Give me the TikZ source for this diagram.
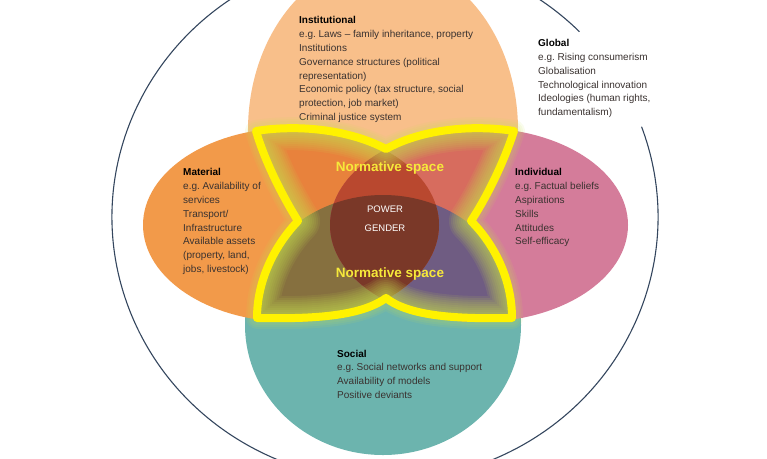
\documentclass[tikz,border=0pt]{standalone}
\usepackage{fontspec}
\setmainfont{Liberation Sans}
\definecolor{peach}{HTML}{F8BF8A}
\definecolor{matorange}{HTML}{F29A4A}
\definecolor{indpink}{HTML}{D47C9A}
\definecolor{socteal}{HTML}{6CB4AE}
\definecolor{deeporange}{HTML}{E8823C}
\definecolor{salmonred}{HTML}{D76C5E}
\definecolor{lobered}{HTML}{B9482F}
\definecolor{matolive}{HTML}{86703F}
\definecolor{matpurple}{HTML}{6F5C82}
\definecolor{corebrown}{HTML}{7A3828}
\definecolor{ringblue}{HTML}{34465E}
\definecolor{normyellow}{HTML}{F6E93A}
\definecolor{glowgreen}{HTML}{C8E050}
\definecolor{bodytext}{HTML}{3A3230}

\newcommand\flowerpath{(256,131) .. controls (300,124) and (350,130) .. (386,149)
  .. controls (420,130) and (470,124) .. (514,131)
  .. controls (503,165) and (485,200) .. (471,221)
  .. controls (495,245) and (512,280) .. (512,318)
  .. controls (460,319) and (410,317) .. (386,298)
  .. controls (360,317) and (310,319) .. (257,318)
  .. controls (257,280) and (275,245) .. (298,221)
  .. controls (285,200) and (266,165) .. (256,131) -- cycle}

\begin{document}
\frenchspacing
\begin{tikzpicture}[x=1pt,y=-1pt,
  blockbody/.style={anchor=north west,align=left,inner sep=0pt,text=bodytext,
    font=\fontsize{10}{13.8}\selectfont},
  corelabel/.style={text=white,inner sep=0pt,font=\fontsize{9.5}{11}\selectfont},
  normlabel/.style={text=normyellow,inner sep=0pt,font=\bfseries\fontsize{13.5}{16}\selectfont},
  glowline/.style={glowgreen,opacity=.1,line join=round}]
\useasboundingbox (0,0) rectangle (767,458);
\clip (0,0) rectangle (767,458);

% outer ring, open behind the global text
\draw[ringblue,line width=1.1pt] (385,217) ++(-20:273 and 264)
  arc[start angle=-20,end angle=315.4,x radius=273,y radius=264];

% the four domains
\fill[peach] (383,130) ellipse [x radius=135,y radius=170];
\fill[socteal] (383,325) ellipse [x radius=138,y radius=130];
\fill[matorange] (291,225) ellipse [x radius=148,y radius=97];
\fill[indpink] (479,225) ellipse [x radius=149,y radius=97];

% texts
\node[blockbody] (inst) at (299,16.4) {{\color{black}\textbf{Institutional}}\\
  e.g. Laws -- family inheritance, property\\ Institutions\\
  Governance structures (political\\ representation)\\
  Economic policy (tax structure, social\\ protection, job market)\\
  Criminal justice system};
\node[blockbody] (glob) at (538,39.2) {{\color{black}\textbf{Global}}\\
  e.g. Rising consumerism\\ Globalisation\\ Technological innovation\\
  Ideologies (human rights,\\ fundamentalism)};
\node[blockbody] (mat) at (183,168.4) {{\color{black}\textbf{Material}}\\
  e.g. Availability of\\ services\\ Transport/\\ Infrastructure\\
  Available assets\\ (property, land,\\ jobs, livestock)};
\node[blockbody] (indiv) at (515,168.4) {{\color{black}\textbf{Individual}}\\
  e.g. Factual beliefs\\ Aspirations\\ Skills\\ Attitudes\\ Self-efficacy};
\node[blockbody] (soc) at (337,349.6) {{\color{black}\textbf{Social}}\\
  e.g. Social networks and support\\ Availability of models\\ Positive deviants};

% normative space
\foreach \w in {22,18,14}
  \draw[glowline,line width=\w pt] \flowerpath;
\begin{scope}
  \clip \flowerpath;
  \fill[socteal!50!peach] (250,120) rectangle (520,330);
  \fill[deeporange] (291,225) ellipse [x radius=148,y radius=97];
  \fill[salmonred] (479,225) ellipse [x radius=149,y radius=97];
  \begin{scope}
    \clip (383,325) ellipse [x radius=138,y radius=130];
    \fill[matolive] (291,225) ellipse [x radius=148,y radius=97];
    \fill[matpurple] (479,225) ellipse [x radius=149,y radius=97];
  \end{scope}
  \begin{scope}
    \clip (291,225) ellipse [x radius=148,y radius=97];
    \fill[lobered] (479,225) ellipse [x radius=149,y radius=97];
    \clip (383,325) ellipse [x radius=138,y radius=130];
    \fill[corebrown] (479,225) ellipse [x radius=149,y radius=97];
  \end{scope}
  \foreach \w in {44,40,...,12}
    \draw[glowline,line width=\w pt] \flowerpath;
\end{scope}
\draw[yellow,line width=8pt,line join=round] \flowerpath;

\node[corelabel] (power) at (385,209) {POWER};
\node[corelabel] (gender) at (385,228) {GENDER};
\node[normlabel] (normtop) at (390,168) {Normative space};
\node[normlabel] (normbot) at (390,274) {Normative space};
\end{tikzpicture}
\end{document}
